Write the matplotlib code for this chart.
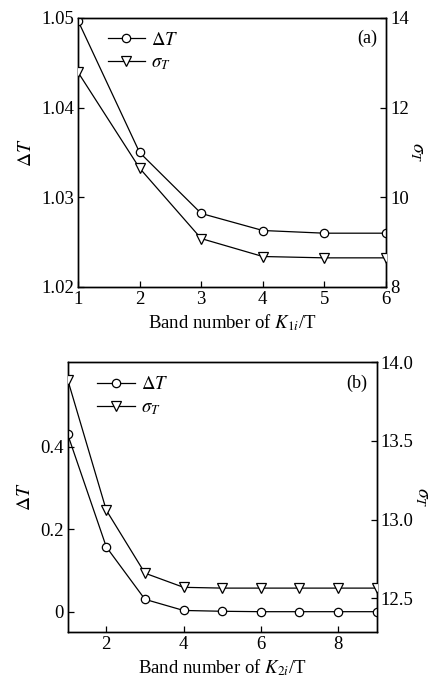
import numpy as np
import matplotlib
matplotlib.use("Agg")
import matplotlib.pyplot as plt

plt.rcParams['font.family'] = ['Liberation Serif', 'DejaVu Serif']
plt.rcParams['mathtext.fontset'] = 'stix'
plt.rcParams['font.size'] = 13

# panel (a): band number of K1i/T
band_a = [1, 2, 3, 4, 5, 6]
dT_a = [1.0497, 1.0350, 1.0282, 1.0263, 1.0260, 1.0260]
sig_a = [12.79, 10.65, 9.08, 8.68, 8.65, 8.65]

# panel (b): band number of K2i/T
band_b = [1, 2, 3, 4, 5, 6, 7, 8, 9]
dT_b = [0.430, 0.157, 0.030, 0.003, 0.001, 0.0, 0.0, 0.0, 0.0]
sig_b = [13.89, 13.06, 12.66, 12.57, 12.565, 12.565, 12.565, 12.565, 12.565]

fig = plt.figure(figsize=(4.30, 6.78), dpi=100)


def style(ax):
    for s in ax.spines.values():
        s.set_linewidth(1.0)
    ax.tick_params(direction='in', length=4, width=0.9, pad=3, labelsize=13.5)


def panel(rect, x, y1, y2, xlim, yl, yr, xt, ylt, yrt, ylfmt, yrfmt, xlabel, tag, rx):
    ax = fig.add_axes(rect)
    ax2 = ax.twinx()
    l1, = ax.plot(x, y1, '-o', color='k', lw=0.9, ms=6, mfc='white', mec='k', mew=0.9,
                  label=r'$\Delta T$', zorder=3)
    l2, = ax2.plot(x, y2, '-v', color='k', lw=0.9, ms=7, mfc='white', mec='k', mew=0.9,
                   label=r'$\sigma_T$', zorder=3)
    ax.set_xlim(*xlim)
    ax.set_ylim(*yl)
    ax2.set_ylim(*yr)
    ax.set_xticks(xt)
    ax.set_yticks(ylt)
    ax.set_yticklabels([ylfmt.format(v) for v in ylt])
    ax2.set_yticks(yrt)
    ax2.set_yticklabels([yrfmt.format(v) for v in yrt])
    style(ax)
    style(ax2)
    ax.tick_params(top=False, right=False)
    ax2.tick_params(left=False, top=False, bottom=False)
    for a in (ax, ax2):
        for lab in a.get_xticklabels() + a.get_yticklabels():
            lab.set_clip_on(False)
    ax.set_xlabel(xlabel, fontsize=13.5, labelpad=3)
    ax.set_ylabel(r'$\Delta T$', fontsize=14, labelpad=4)
    ax2.set_ylabel(r'$\sigma_T$', fontsize=14, rotation=270, va='center', ha='center')
    ax2.yaxis.set_label_coords(rx, 0.5)
    ax.text(0.97, 0.955, tag, transform=ax.transAxes, ha='right', va='top', fontsize=13)
    ax.legend([l1, l2], [r'$\Delta T$', r'$\sigma_T$'], loc='upper left',
              bbox_to_anchor=(0.06, 0.99), frameon=False, handlelength=2.0,
              handletextpad=0.3, labelspacing=0.3, borderaxespad=0.2, fontsize=13.5)
    return ax


panel([0.1814, 0.5767, 0.7163, 0.3968], band_a, dT_a, sig_a, (1, 6), (1.02, 1.05), (8, 14),
      [1, 2, 3, 4, 5, 6], [1.02, 1.03, 1.04, 1.05], [8, 10, 12, 14], '{:.2f}', '{:d}',
      r'Band number of $K_{1i}$/T', '(a)', 1.10)

panel([0.1574, 0.0683, 0.7186, 0.3973], band_b, dT_b, sig_b, (1, 9), (-0.0485, 0.6046), (12.288, 14.0),
      [2, 4, 6, 8], [0, 0.2, 0.4], [12.5, 13.0, 13.5, 14.0], '{:g}', '{:.1f}',
      r'Band number of $K_{2i}$/T', '(b)', 1.145)

fig.savefig('out.png', dpi=100)
